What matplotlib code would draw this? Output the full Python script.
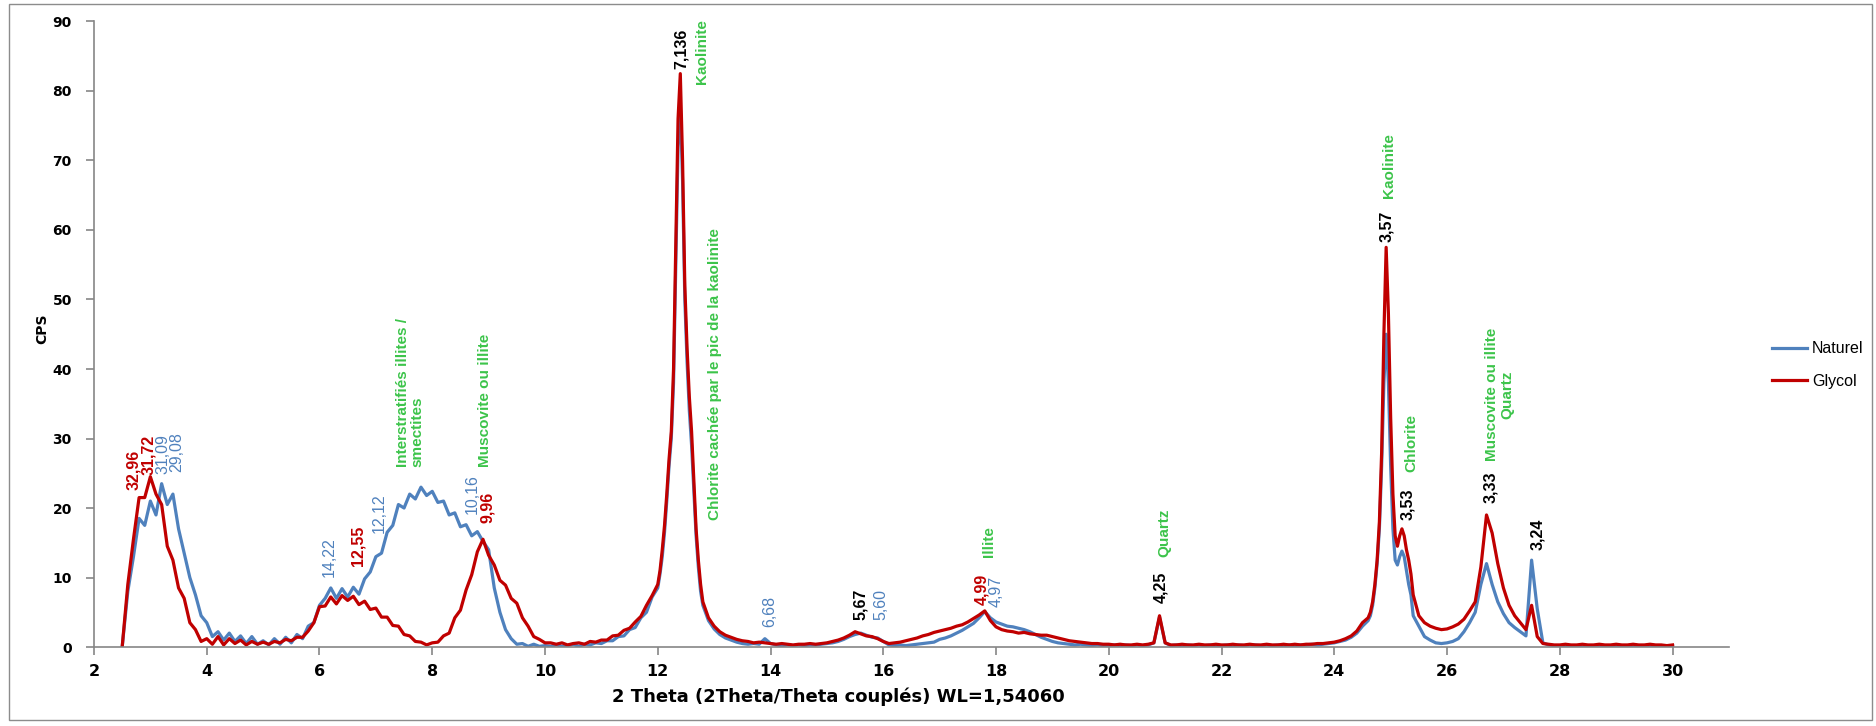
import numpy as np
import matplotlib
matplotlib.use("Agg")
import matplotlib.pyplot as plt
from matplotlib.patches import Rectangle

plt.rcParams['font.family'] = ['Liberation Sans', 'DejaVu Sans']

# 2 theta sampling (finer around the sharp kaolinite peaks)
two_theta = np.concatenate([
    np.linspace(2.5, 11.9, 95),
    np.linspace(12.0, 12.76, 20),
    np.linspace(12.8, 24.5, 118),
    np.linspace(24.6, 25.36, 20),
    np.linspace(25.4, 30.0, 47),
])

naturel = [
    0, 8, 13, 18.5, 17.5,
    21, 19, 23.5, 20.5, 22, 17, 13.5, 10, 7.5, 4.5,
    3.5, 1.5, 2.2, 1, 2, 0.8, 1.6, 0.5, 1.5, 0.4,
    0.9, 0.3, 1.2, 0.4, 1.4, 0.6, 1.8, 1.2, 3, 3.5,
    6, 7, 8.5, 7, 8.4, 7.2, 8.6, 7.6, 9.8, 10.8,
    13, 13.5, 16.5, 17.5, 20.5, 20, 22, 21.3, 23, 21.8,
    22.4, 20.8, 21, 19, 19.3, 17.3, 17.6, 16, 16.6, 15.2,
    14, 8.5, 5, 2.5, 1.2, 0.4, 0.5, 0.1, 0.4, 0.1,
    0.2, 0.1, 0.3, 0.1, 0.2, 0.4, 0.1, 0.4, 0.3, 0.6,
    0.5, 0.9, 0.9, 1.5, 1.6, 2.5, 2.8, 4.2, 5, 7.2,
    # 12.00 - 12.76
    8.5, 10.5, 13, 16.5, 21, 26, 30, 38, 55, 72,
    78, 67, 50, 41, 34, 29, 22.5, 16, 11.5, 8,
    # 12.8 - 24.5
    6, 3.8,
    2.6, 1.8, 1.3, 1.0, 0.7, 0.5, 0.4, 0.5, 0.4, 1.2,
    0.5, 0.3, 0.2, 0.3, 0.2, 0.3, 0.2, 0.3, 0.3, 0.4,
    0.5, 0.6, 0.8, 1.1, 1.5, 1.8, 2.0, 1.7, 1.4, 1.3,
    0.8, 0.3, 0.2, 0.3, 0.2, 0.3, 0.4, 0.5, 0.6, 0.7,
    1.1, 1.3, 1.6, 2.0, 2.4, 2.9, 3.4, 4.2, 5.1, 4.2,
    3.6, 3.3, 3.0, 2.9, 2.7, 2.5, 2.2, 1.8, 1.4, 1.1,
    0.8, 0.6, 0.5, 0.4, 0.3, 0.4, 0.3, 0.2, 0.3, 0.2,
    0.2, 0.3, 0.2, 0.3, 0.2, 0.3, 0.2, 0.3, 0.6, 4.3,
    0.6, 0.2, 0.3, 0.2, 0.3, 0.2, 0.3, 0.2, 0.3, 0.2,
    0.2, 0.3, 0.2, 0.3, 0.2, 0.3, 0.3, 0.2, 0.3, 0.2,
    0.3, 0.2, 0.3, 0.2, 0.3, 0.3, 0.4, 0.3, 0.4, 0.5,
    0.6, 0.8, 1.0, 1.4, 2.0, 3.0,
    # 24.60 - 25.36
    3.8, 4.5, 6, 8.5, 12, 17, 26, 38, 45, 38,
    26, 17, 12.5, 11.8, 13, 13.8, 13, 11, 9, 7.5,
    # 25.4 - 30.0
    4.5, 3.0, 1.5, 1.0, 0.6, 0.5,
    0.6, 0.8, 1.2, 2.2, 3.5, 5.0, 9, 12, 9, 6.5,
    4.8, 3.5, 2.8, 2.2, 1.6, 12.5, 5.5, 0.6, 0.3, 0.2,
    0.2, 0.1, 0.2, 0.2, 0.1, 0.2, 0.1, 0.2, 0.2, 0.1,
    0.2, 0.1, 0.2, 0.1, 0.2, 0.2, 0.1, 0.2, 0.1, 0.2,
    0.2,
]

glycol = [
    0, 9, 15.5, 21.5, 21.5,
    24.5, 22, 20.5, 14.5, 12.5, 8.5, 7, 3.5, 2.5, 0.8,
    1.2, 0.4, 1.5, 0.3, 1.2, 0.5, 1, 0.3, 0.8, 0.4,
    0.7, 0.4, 0.8, 0.6, 1.1, 0.9, 1.4, 1.4, 2.3, 3.5,
    5.8, 5.9, 7.2, 6.2, 7.4, 6.7, 7.3, 6.1, 6.6, 5.4,
    5.6, 4.3, 4.3, 3.1, 3.0, 1.8, 1.6, 0.8, 0.7, 0.3,
    0.6, 0.7, 1.6, 2.0, 4.2, 5.3, 8.2, 10.4, 13.7, 15.5,
    13.2, 11.8, 9.6, 8.9, 7.0, 6.3, 4.2, 3.0, 1.5, 1.1,
    0.6, 0.6, 0.4, 0.6, 0.3, 0.5, 0.6, 0.4, 0.8, 0.7,
    1.0, 1.0, 1.6, 1.7, 2.4, 2.7, 3.6, 4.4, 6.0, 7.4,
    # 12.00 - 12.76
    9, 11, 14, 17.5, 22, 27, 31, 40, 58, 76,
    82.5, 70, 52, 43, 36, 31, 24, 17, 12.5, 9,
    # 12.8 - 24.5
    6.5, 4.2,
    3.0, 2.2, 1.7, 1.4, 1.1, 0.9, 0.8, 0.6, 0.7, 0.6,
    0.5, 0.4, 0.5, 0.4, 0.3, 0.4, 0.4, 0.5, 0.4, 0.5,
    0.6, 0.8, 1.0, 1.3, 1.7, 2.2, 1.9, 1.6, 1.5, 1.2,
    0.8, 0.5, 0.6, 0.7, 0.9, 1.1, 1.3, 1.6, 1.8, 2.1,
    2.3, 2.5, 2.7, 3.0, 3.2, 3.6, 4.1, 4.6, 5.2, 3.8,
    2.9, 2.5, 2.3, 2.2, 2.0, 2.1, 1.9, 1.8, 1.7, 1.7,
    1.5, 1.3, 1.1, 0.9, 0.8, 0.7, 0.6, 0.5, 0.5, 0.4,
    0.4, 0.3, 0.4, 0.3, 0.3, 0.4, 0.3, 0.4, 0.6, 4.5,
    0.6, 0.3, 0.3, 0.4, 0.3, 0.3, 0.4, 0.3, 0.3, 0.4,
    0.3, 0.3, 0.4, 0.3, 0.3, 0.4, 0.3, 0.3, 0.4, 0.3,
    0.3, 0.4, 0.3, 0.4, 0.3, 0.4, 0.4, 0.5, 0.5, 0.6,
    0.7, 0.9, 1.2, 1.6, 2.3, 3.5,
    # 24.60 - 25.36
    4.2, 5, 6.5, 9, 12.5, 18, 28, 45, 57.5, 48,
    33, 22, 16, 14.5, 16, 17, 16, 14, 12.5, 10.5,
    # 25.4 - 30.0
    7.5, 4.5, 3.5, 3.0, 2.7, 2.5,
    2.6, 2.9, 3.3, 4.0, 5.2, 6.5, 11.5, 19, 16.4, 12,
    8.5, 6.0, 4.5, 3.5, 2.5, 6.0, 1.5, 0.5, 0.4, 0.3,
    0.3, 0.4, 0.3, 0.3, 0.4, 0.3, 0.3, 0.4, 0.3, 0.3,
    0.4, 0.3, 0.3, 0.4, 0.3, 0.3, 0.4, 0.3, 0.3, 0.2,
    0.3,
]

BLUE = '#4F81BD'
RED = '#C00000'
GREEN = '#3CC44A'
BLACK = '#000000'

# d-spacing labels (text, 2theta, cps, colour)
d_labels = [
    ('32,96', 2.70, 22.6, RED), ('31,72', 2.97, 24.7, RED),
    ('31,09', 3.22, 24.9, BLUE), ('29,08', 3.47, 25.2, BLUE),
    ('14,22', 6.18, 10.1, BLUE), ('12,55', 6.68, 11.6, RED),
    ('12,12', 7.06, 16.4, BLUE), ('10,16', 8.71, 19.2, BLUE),
    ('9,96', 8.98, 17.8, RED), ('7,136', 12.42, 83.1, BLACK),
    ('6,68', 13.98, 2.9, BLUE), ('5,67', 15.59, 3.9, BLACK),
    ('5,60', 15.96, 3.9, BLUE), ('4,99', 17.74, 6.0, RED),
    ('4,97', 18.00, 5.8, BLUE), ('4,25', 20.92, 6.3, BLACK),
    ('3,57', 24.93, 58.3, BLACK), ('3,53', 25.30, 18.3, BLACK),
    ('3,33', 26.77, 20.7, BLACK), ('3,24', 27.60, 14.0, BLACK),
]

# mineral names (text, 2theta, cps, line alignment)
minerals = [
    ('Interstratifiés illites /\nsmectites', 7.61, 25.9, 'left'),
    ('Muscovite ou illite', 8.94, 25.9, 'left'),
    ('Kaolinite', 12.78, 81.0, 'left'),
    ('Chlorite cachée par le pic de la kaolinite', 13.02, 18.3, 'left'),
    ('Illite', 17.87, 13.0, 'left'),
    ('Quartz', 20.98, 12.9, 'left'),
    ('Kaolinite', 24.97, 64.6, 'left'),
    ('Chlorite', 25.36, 25.2, 'left'),
    ('Muscovite ou illite\nQuartz', 26.94, 26.7, 'center'),
]

fig = plt.figure(figsize=(18.76, 7.26), dpi=100)
ax = fig.add_axes([0.0501, 0.1088, 0.8715, 0.8616])

ax.plot(two_theta, naturel, color=BLUE, lw=2.3, label='Naturel')
ax.plot(two_theta, glycol, color=RED, lw=2.3, label='Glycol')

for txt, x, y, c in d_labels:
    w = 'normal' if c == BLUE else 'bold'
    ax.text(x, y, txt, rotation=90, ha='center', va='bottom', color=c,
            fontsize=11.5, fontweight=w)

for txt, x, y, al in minerals:
    ax.text(x, y, txt, rotation=90, ha='center', va='bottom', color=GREEN,
            fontsize=11, fontweight='bold', multialignment=al, linespacing=1.1)

ax.set_xlim(2, 31)
ax.set_ylim(0, 90)
ax.set_xticks(range(2, 31, 2))
ax.set_yticks(range(0, 91, 10))
for s in ['top', 'right']:
    ax.spines[s].set_visible(False)
for s in ['left', 'bottom']:
    ax.spines[s].set_color('#868686')
    ax.spines[s].set_linewidth(1.2)
ax.tick_params(axis='both', direction='out', length=6, color='#868686', width=1.2)
ax.tick_params(axis='y', pad=10)
ax.tick_params(axis='x', pad=6)
for lab in ax.get_yticklabels():
    lab.set_family(['DejaVu Sans'])
    lab.set_fontsize(10)
    lab.set_fontweight('bold')
for lab in ax.get_xticklabels():
    lab.set_family(['Liberation Sans Narrow', 'DejaVu Sans'])
    lab.set_fontsize(11.5)
    lab.set_fontweight('bold')

fig.text(0.0224, 0.547, 'CPS', rotation=90, ha='center', va='center',
         fontsize=10, fontweight='bold', family=['DejaVu Sans'])
fig.text(0.447, 0.040, '2 Theta (2Theta/Theta couplés) WL=1,54060', ha='center',
         va='center', fontsize=13, fontweight='bold',
         family=['Liberation Sans Narrow', 'DejaVu Sans'])

fig.legend(loc='center left', bbox_to_anchor=(0.937, 0.497), frameon=False,
           fontsize=11.5, handlelength=2.2, handletextpad=0.3, labelspacing=1.1)

fig.patches.append(Rectangle((0.005, 0.008), 0.993, 0.986, transform=fig.transFigure,
                             fill=False, edgecolor='#8c8c8c', lw=1))

fig.savefig('out.png', dpi=100)
